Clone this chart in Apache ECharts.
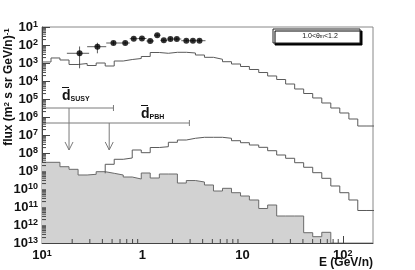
<!DOCTYPE html>
<html><head><meta charset="utf-8">
<script src="https://cdn.jsdelivr.net/npm/echarts@6/dist/echarts.min.js"></script>
<style>html,body{margin:0;padding:0;background:#fff}#c{width:415px;height:270px}</style>
</head><body><div id="c"></div>
<script>
// ---- data ----
const binEdges = [0.1, 0.123, 0.151, 0.186, 0.229, 0.282, 0.347, 0.427, 0.525, 0.646, 0.794, 0.977, 1.2, 1.48, 1.82, 2.24, 2.75, 3.39, 4.17, 5.13, 6.31, 7.76, 9.55, 11.7, 14.5, 17.8, 21.9, 26.9, 33.1, 40.7, 50.1, 61.7, 75.9, 93.3, 115, 141, 174, 214];
const upperFlux = [1.14e-3, 1.90e-3, 1.47e-3, 8.26e-4, 9.38e-4, 7.26e-4, 1.0e-3, 6.81e-4, 1.29e-3, 1.56e-3, 1.78e-3, 2.30e-3, 3.83e-3, 3.46e-3, 3.93e-3, 3.93e-3, 3.60e-3, 2.78e-3, 2.07e-3, 1.61e-3, 1.18e-3, 8.79e-4, 6.40e-4, 4.36e-4, 2.96e-4, 1.90e-4, 1.21e-4, 6.81e-5, 3.60e-5, 2.02e-5, 1.14e-5, 6.0e-6, 3.16e-6, 1.67e-6, 7.74e-7, 3.16e-7, 3.16e-7];
const middleFlux = [null, null, null, null, null, null, null, 2.36e-9, 4.47e-9, 5.27e-9, 1.47e-8, 1.04e-8, 2.02e-8, 2.24e-8, 3.93e-8, 5.27e-8, 6.56e-8, 7.45e-8, 7.45e-8, 7.45e-8, 6.56e-8, 4.82e-8, 3.73e-8, 2.78e-8, 2.07e-8, 1.34e-8, 7.74e-9, 5.08e-9, 2.89e-9, 1.61e-9, 8.05e-10, 3.93e-10, 1.47e-10, 6.22e-11, 2.45e-11, 6.40e-12, 6.40e-12];
const backgroundFlux = [3.04e-9, 3.04e-9, 1.73e-9, 1.24e-9, 6.0e-10, 6.56e-10, 9.14e-10, 7.45e-10, 6.0e-10, 4.64e-10, 3.60e-10, 7.74e-10, 4.08e-10, 6.81e-10, 6.81e-10, 2.15e-10, 2.96e-10, 2.45e-10, 1.67e-10, 7.74e-11, 1.09e-10, 6.22e-11, 4.08e-11, 2.45e-11, 8.26e-12, 1.29e-11, 3.16e-12, 3.16e-12, 3.16e-12, 3.73e-13, 2.24e-13, 3.93e-13];

const pointsE   = [0.237, 0.357, 0.516, 0.676, 0.822, 0.993, 1.20, 1.41, 1.64, 1.91, 2.21, 2.75, 3.20, 3.72];
const pointsF   = [3.46e-3, 8.05e-3, 1.29e-2, 1.29e-2, 2.24e-2, 2.30e-2, 1.67e-2, 3.50e-2, 1.82e-2, 2.15e-2, 2.15e-2, 1.73e-2, 1.73e-2, 1.73e-2];
const pointsELo = [0.177, 0.282, 0.437, 0.60, 0.75, 0.91, 1.10, 1.31, 1.52, 1.78, 2.05, 2.45, 2.95, 3.45];
const pointsEHi = [0.295, 0.437, 0.60, 0.75, 0.91, 1.10, 1.31, 1.52, 1.78, 2.05, 2.45, 2.95, 3.45, 4.27];
const pointsFLo = [5.08e-4, 3.46e-3, 1.0e-2, 1.05e-2, 1.85e-2, 1.9e-2, 1.4e-2, 2.8e-2, 1.5e-2, 1.8e-2, 1.8e-2, 1.45e-2, 1.45e-2, 1.45e-2];
const pointsFHi = [8.26e-3, 1.33e-2, 1.67e-2, 1.6e-2, 2.7e-2, 2.8e-2, 2.0e-2, 4.3e-2, 2.2e-2, 2.6e-2, 2.6e-2, 2.1e-2, 2.1e-2, 2.1e-2];

// limits: [E low, E high, flux, arrow E, arrow tip flux]
const limitSUSY = [0.1, 0.516, 3.16e-6, 0.186, 1.47e-8];
const limitPBH  = [0.1, 2.95, 4.64e-7, 0.468, 1.47e-8];

const xTickValues = [0.1, 1, 10, 100];
const xTickLabels = ['10{s|1}', '1', '10', '10{s|2}'];
const yTickValues = [1e-1, 1e-2, 1e-3, 1e-4, 1e-5, 1e-6, 1e-7, 1e-8, 1e-9, 1e-10, 1e-11, 1e-12, 1e-13];
const yTickLabels = ['10{s|1}', '10{s|2}', '10{s|3}', '10{s|4}', '10{s|5}', '10{s|6}', '10{s|7}', '10{s|8}', '10{s|9}', '10{s|10}', '10{s|11}', '10{s|12}', '10{s|13}'];

const X_MIN = 0.1, X_MAX = 200, Y_MIN = 1e-13, Y_MAX = 1e-1;
const FONT = '"Liberation Sans", Arial, Helvetica, sans-serif';
const AXIS_COLOR = '#444';

// ---- build ----
function lookup(vals, labels, v) {
  for (let i = 0; i < vals.length; i++) if (Math.abs(Math.log10(vals[i]) - Math.log10(v)) < 1e-6) return labels[i];
  return '';
}
const upperData = upperFlux.map((v, i) => [binEdges[i], v]);
upperData.push([binEdges[upperFlux.length], upperFlux[upperFlux.length - 1]]);

const firstMid = middleFlux.findIndex(v => v !== null);
const middleData = [[binEdges[firstMid], backgroundFlux[firstMid]]];
middleFlux.forEach((v, i) => { if (v !== null) middleData.push([binEdges[i], v]); });
middleData.push([binEdges[middleFlux.length], middleFlux[middleFlux.length - 1]]);

const bgData = backgroundFlux.map((v, i) => [binEdges[i], v]);
bgData.push([binEdges[backgroundFlux.length], backgroundFlux[backgroundFlux.length - 1]]);
bgData.push([binEdges[backgroundFlux.length], Y_MIN]);

const pointRows = pointsE.map((e, i) => [e, pointsF[i], pointsELo[i], pointsEHi[i], pointsFLo[i], pointsFHi[i]]);

// minor tick positions (decade multiples)
const yMinor = [];
for (let ex = -13; ex <= -2; ex++) for (let m = 2; m <= 9; m++) yMinor.push([X_MIN, m * Math.pow(10, ex)]);
const xMinor = [];
for (let ex = -1; ex <= 1; ex++) for (let m = 2; m <= 9; m++) xMinor.push([m * Math.pow(10, ex), Y_MIN]);

const supRich = {
  s: { fontSize: 9, fontWeight: 'bold', fontFamily: FONT, color: '#111', verticalAlign: 'top', lineHeight: 10 }
};

const chart = echarts.init(document.getElementById('c'), null, { renderer: 'canvas' });
chart.setOption({
  animation: false,
  backgroundColor: '#fff',
  grid: { left: 42, right: 42, top: 27, bottom: 27, show: true, borderColor: '#888', borderWidth: 1, backgroundColor: '#fff' },
  xAxis: {
    type: 'log', logBase: 10, min: X_MIN, max: X_MAX,
    axisLine: { show: true, lineStyle: { color: AXIS_COLOR, width: 1 } },
    axisTick: { show: true, inside: true, length: 7, customValues: xTickValues, lineStyle: { color: AXIS_COLOR } },
    minorTick: { show: false },
    splitLine: { show: false },
    axisLabel: {
      customValues: xTickValues, margin: 6,
      formatter: v => lookup(xTickValues, xTickLabels, v),
      fontSize: 13, fontWeight: 'bold', fontFamily: FONT, color: '#111', rich: supRich
    }
  },
  yAxis: {
    type: 'log', logBase: 10, min: Y_MIN, max: Y_MAX,
    axisLine: { show: true, lineStyle: { color: AXIS_COLOR, width: 1 } },
    axisTick: { show: true, inside: true, length: 8, customValues: yTickValues, lineStyle: { color: AXIS_COLOR } },
    splitLine: { show: false },
    axisLabel: {
      customValues: yTickValues, margin: 4,
      formatter: v => lookup(yTickValues, yTickLabels, v),
      fontSize: 13, fontWeight: 'bold', fontFamily: FONT, color: '#111', rich: supRich
    }
  },
  series: [
    {
      name: 'background', type: 'line', step: 'end', data: bgData, showSymbol: false, z: 1,
      lineStyle: { color: '#6a6a6a', width: 1 },
      areaStyle: { color: '#d2d2d2', opacity: 1, origin: 'start' }
    },
    {
      name: 'middle', type: 'line', step: 'end', data: middleData, showSymbol: false, z: 2,
      lineStyle: { color: '#5a5a5a', width: 1 }
    },
    {
      name: 'upper', type: 'line', step: 'end', data: upperData, showSymbol: false, z: 2,
      lineStyle: { color: '#5a5a5a', width: 1 }
    },
    {
      name: 'minorY', type: 'custom', data: yMinor, z: 5, silent: true, clip: false,
      renderItem: (params, api) => {
        const p = api.coord([api.value(0), api.value(1)]);
        return { type: 'line', shape: { x1: p[0], y1: p[1], x2: p[0] + 4, y2: p[1] }, style: { stroke: AXIS_COLOR, lineWidth: 1 } };
      }
    },
    {
      name: 'minorX', type: 'custom', data: xMinor, z: 5, silent: true, clip: false,
      renderItem: (params, api) => {
        const p = api.coord([api.value(0), api.value(1)]);
        return { type: 'line', shape: { x1: p[0], y1: p[1], x2: p[0], y2: p[1] - 4 }, style: { stroke: AXIS_COLOR, lineWidth: 1 } };
      }
    },
    {
      name: 'limits', type: 'custom', data: [limitSUSY, limitPBH], z: 4, silent: true,
      renderItem: (params, api) => {
        const a = api.coord([api.value(0), api.value(2)]);
        const b = api.coord([api.value(1), api.value(2)]);
        const s = api.coord([api.value(3), api.value(2)]);
        const t = api.coord([api.value(3), api.value(4)]);
        const st = { stroke: '#7a7a7a', lineWidth: 1, fill: null };
        return { type: 'group', children: [
          { type: 'line', shape: { x1: a[0], y1: a[1], x2: b[0], y2: b[1] }, style: st },
          { type: 'line', shape: { x1: b[0], y1: b[1] - 3, x2: b[0], y2: b[1] + 3 }, style: st },
          { type: 'line', shape: { x1: s[0], y1: s[1], x2: t[0], y2: t[1] }, style: st },
          { type: 'polyline', shape: { points: [[t[0] - 4, t[1] - 8], [t[0], t[1]], [t[0] + 4, t[1] - 8]] }, style: st }
        ] };
      }
    },
    {
      name: 'errors', type: 'custom', data: pointRows, z: 6, silent: true,
      renderItem: (params, api) => {
        const c = api.coord([api.value(0), api.value(1)]);
        const l = api.coord([api.value(2), api.value(1)]);
        const r = api.coord([api.value(3), api.value(1)]);
        const lo = api.coord([api.value(0), api.value(4)]);
        const hi = api.coord([api.value(0), api.value(5)]);
        const st = { stroke: '#333', lineWidth: 0.8 };
        return { type: 'group', children: [
          { type: 'line', shape: { x1: l[0], y1: c[1], x2: r[0], y2: c[1] }, style: st },
          { type: 'line', shape: { x1: c[0], y1: lo[1], x2: c[0], y2: hi[1] }, style: st }
        ] };
      }
    },
    {
      name: 'data', type: 'scatter', data: pointsE.map((e, i) => [e, pointsF[i]]), z: 7,
      symbol: 'circle', symbolSize: 6, itemStyle: { color: '#000' }
    }
  ],
  graphic: [
    { type: 'text', x: 9, y: 87, rotation: Math.PI / 2,
      style: { text: 'flux (m{p|2} s sr GeV/n){p|-1}', align: 'center', verticalAlign: 'middle',
        font: 'bold 12px ' + FONT, fill: '#111',
        rich: { p: { fontSize: 8, fontWeight: 'bold', fontFamily: FONT, verticalAlign: 'top', lineHeight: 9 } } } },
    { type: 'text', x: 373, y: 263,
      style: { text: 'E (GeV/n)', align: 'right', verticalAlign: 'middle', font: 'bold 12px ' + FONT, fill: '#111' } },
    { type: 'rect', shape: { x: 273, y: 29, width: 87, height: 14 },
      style: { fill: '#fff', stroke: '#222', lineWidth: 1, shadowColor: '#000', shadowOffsetX: 2, shadowOffsetY: 2, shadowBlur: 0 }, z: 10 },
    { type: 'text', x: 320, y: 36, z: 11,
      style: { text: '1.0<θ{b|m}<1.2', align: 'center', verticalAlign: 'middle', font: '7px ' + FONT, fill: '#111',
        rich: { b: { fontSize: 5, fontFamily: FONT, verticalAlign: 'bottom', lineHeight: 6 } } } },
    { type: 'text', x: 62, y: 96, z: 11,
      style: { text: '{d|d}{s|SUSY}', align: 'left', verticalAlign: 'middle', fill: '#111',
        rich: { d: { fontSize: 14, fontWeight: 'bold', fontFamily: FONT, verticalAlign: 'bottom', lineHeight: 14 },
                s: { fontSize: 7, fontWeight: 'bold', fontFamily: FONT, verticalAlign: 'bottom', lineHeight: 10 } } } },
    { type: 'line', shape: { x1: 62, y1: 87.5, x2: 69, y2: 87.5 }, style: { stroke: '#111', lineWidth: 1 }, z: 11 },
    { type: 'text', x: 141, y: 114, z: 11,
      style: { text: '{d|d}{s|PBH}', align: 'left', verticalAlign: 'middle', fill: '#111',
        rich: { d: { fontSize: 14, fontWeight: 'bold', fontFamily: FONT, verticalAlign: 'bottom', lineHeight: 14 },
                s: { fontSize: 7, fontWeight: 'bold', fontFamily: FONT, verticalAlign: 'bottom', lineHeight: 10 } } } },
    { type: 'line', shape: { x1: 141, y1: 105.5, x2: 148, y2: 105.5 }, style: { stroke: '#111', lineWidth: 1 }, z: 11 }
  ]
});
</script>
</body></html>
